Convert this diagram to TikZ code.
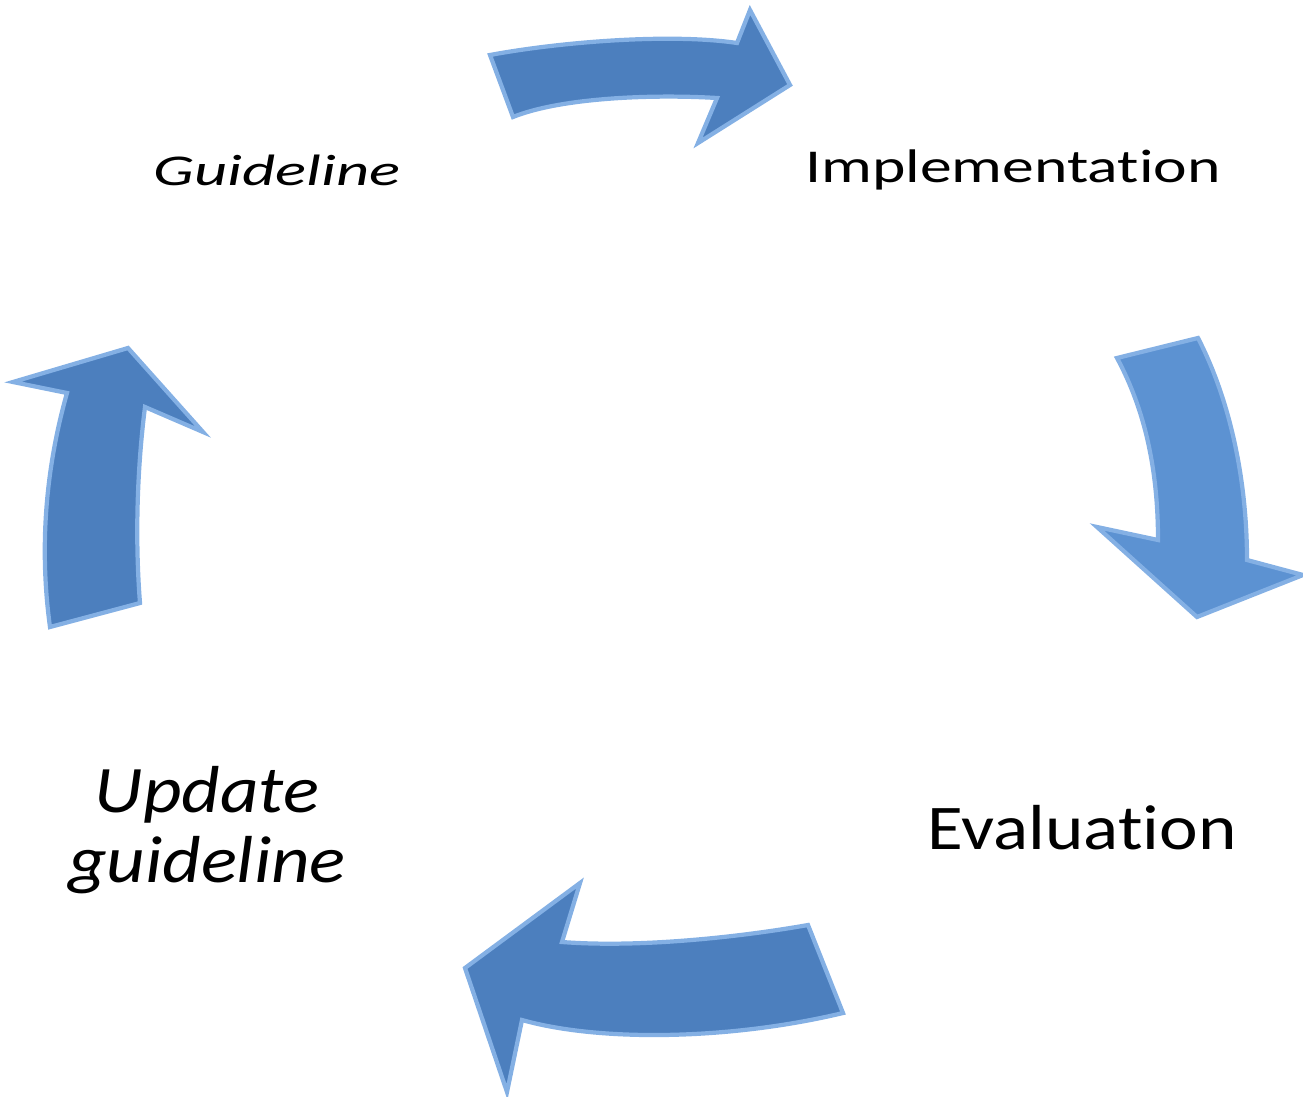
\documentclass[tikz,border=0pt]{standalone}
\usepackage{fontspec}
\setmainfont{Carlito}[Ligatures = CommonOff]

\definecolor{arrowblue}{RGB}{76,127,190}
\definecolor{arrowpale}{RGB}{92,146,210}
\definecolor{arrowlight}{RGB}{132,176,228}

\tikzset{
	cyclearrow/.style = {fill = arrowblue, draw = arrowlight, line width = 1.2pt, line join = miter},
	steplabel/.style = {inner sep = 0pt, text = black}
}

\begin{document}
\begin{tikzpicture}[x = 0.01cm, y = -0.01cm]
	\useasboundingbox (0,0) rectangle (1303,1097);

		% the four curved arrows of the cycle
		\draw[cyclearrow] (490,55) .. controls (560,42) and (670,33) .. (737,43) -- (750,10) -- (790,85)
			-- (698,143) -- (717,98) .. controls (650,94) and (560,98) .. (513,117) -- cycle;
		\draw[cyclearrow, fill = arrowpale] (1117,358) -- (1198,338) .. controls (1230,400) and (1247,480) .. (1247,560)
			-- (1303,575) -- (1197,617) -- (1097,527) -- (1158,540) .. controls (1158,470) and (1145,410) .. cycle;
		\draw[cyclearrow] (808,925) .. controls (740,937) and (640,948) .. (562,942) -- (580,883) -- (465,968)
			-- (507,1092) -- (522,1020) .. controls (600,1042) and (730,1040) .. (843,1013) -- cycle;
		\draw[cyclearrow] (50,627) .. controls (38,540) and (48,460) .. (67,393) -- (13,382) -- (128,348)
			-- (203,432) -- (145,407) .. controls (137,470) and (135,540) .. (140,603) -- cycle;

		% step names
		\node[steplabel, xscale = 1.47, font = \fontsize{12.5}{14}\selectfont\itshape] (guide) at (277,170) {Guideline};
		\node[steplabel, xscale = 1.35, font = \fontsize{13.4}{15}\selectfont] (impl) at (1013,170) {Implementation};
		\node[steplabel, xscale = 1.15, font = \fontsize{18.1}{20}\selectfont] (eval) at (1082,828) {Evaluation};
		\node[steplabel, xscale = 1.13, align = center, font = \fontsize{18.9}{19.9}\selectfont\itshape] (update) at (207,830)
			{Update\\ guideline};
\end{tikzpicture}
\end{document}
